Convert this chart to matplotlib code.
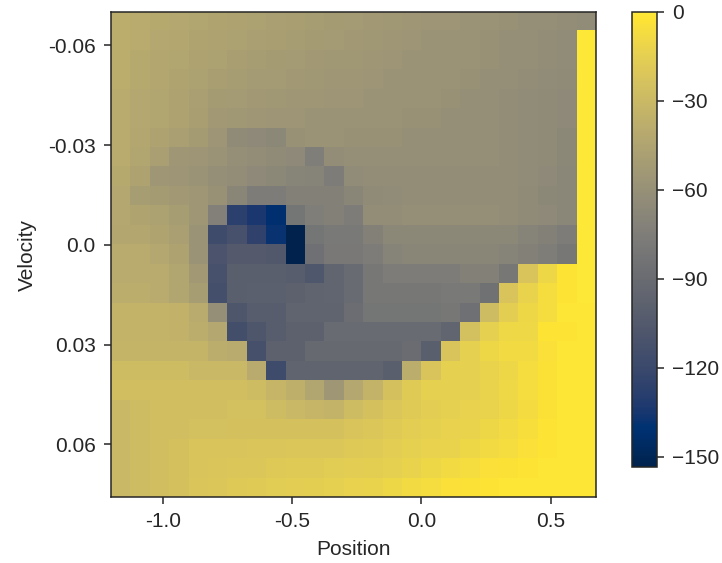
import matplotlib
matplotlib.use('Agg')

import matplotlib.pyplot as plt
import numpy as np

# value grid: rows = velocity bins (-0.07 .. 0.07), cols = position bins (-1.2 .. 0.6)
values = [
    [-38, -40, -41, -42, -44, -45, -46, -47, -48, -49, -50, -51, -52, -53, -54, -55, -56, -56, -57, -58, -59, -60, -61, -62, -63],
    [-38, -40, -42, -43, -45, -46, -47, -48, -49, -50, -51, -52, -53, -54, -55, -56, -57, -57, -58, -59, -60, -61, -62, -63, 0],
    [-38, -41, -43, -44, -46, -47, -49, -50, -51, -52, -53, -54, -54, -55, -56, -57, -57, -58, -58, -59, -60, -61, -62, -63, 0],
    [-38, -41, -43, -45, -47, -49, -50, -52, -52, -53, -54, -55, -55, -56, -57, -57, -58, -58, -59, -60, -61, -62, -63, -64, 0],
    [-39, -42, -44, -46, -48, -51, -52, -53, -54, -55, -55, -56, -56, -57, -57, -58, -58, -59, -60, -61, -62, -63, -64, -65, 0],
    [-39, -42, -44, -46, -49, -53, -54, -55, -56, -56, -57, -57, -57, -58, -58, -59, -59, -60, -60, -61, -62, -63, -64, -65, 0],
    [-40, -43, -46, -48, -51, -56, -64, -65, -66, -59, -58, -58, -59, -59, -59, -60, -60, -60, -60, -61, -62, -63, -64, -66, 0],
    [-40, -44, -48, -55, -56, -58, -61, -62, -64, -65, -74, -62, -61, -60, -60, -60, -60, -61, -61, -61, -62, -63, -64, -66, 0],
    [-41, -46, -55, -56, -58, -60, -62, -65, -66, -69, -70, -76, -63, -62, -62, -62, -62, -62, -62, -62, -62, -63, -65, -67, 0],
    [-42, -50, -51, -53, -55, -59, -68, -76, -76, -72, -72, -72, -68, -64, -63, -62, -62, -62, -62, -62, -62, -64, -66, -67, 0],
    [-42, -45, -47, -50, -55, -73, -127, -134, -142, -82, -74, -72, -76, -62, -62, -61, -61, -61, -61, -61, -62, -64, -65, -67, 0],
    [-43, -43, -45, -48, -57, -118, -112, -125, -138, -153.5, -82, -78, -78, -72, -66, -66, -66, -66, -66, -66, -66, -70, -72, -76, 0],
    [-40, -40, -42, -46, -57, -110, -104, -104, -106, -153, -86, -79, -79, -76, -70, -68, -68, -68, -68, -68, -70, -72, -75, -80, 0],
    [-40, -40, -40, -44, -53, -112, -100, -100, -100, -102, -107, -95, -90, -80, -76, -76, -76, -76, -72, -72, -80, -22, -10, -2, 0],
    [-38, -38, -40, -44, -50, -114, -100, -99, -99, -98, -96, -95, -90, -80, -80, -80, -80, -78, -78, -85, -22, -12, -6, -2, 0],
    [-34, -34, -34, -35, -40, -60, -108, -102, -102, -96, -96, -96, -88, -82, -82, -82, -82, -80, -86, -28, -15, -10, -6, -1, -1],
    [-34, -34, -34, -35, -38, -42, -115, -108, -102, -98, -98, -90, -90, -90, -90, -90, -90, -95, -25, -14, -9, -9, -2, -2, -1],
    [-33, -33, -33, -33, -33, -38, -40, -113, -98, -98, -92, -92, -92, -92, -92, -89, -100, -22, -14, -10, -8, -8, -4, -1, -1],
    [-28, -28, -28, -28, -30, -30, -30, -40, -117, -96, -96, -96, -96, -96, -100, -38, -22, -14, -14, -12, -10, -6, -3, -1, -1],
    [-26, -26, -26, -26, -26, -26, -26, -28, -32, -36, -44, -55, -42, -34, -24, -18, -14, -14, -14, -12, -9, -6, -3, -1, -1],
    [-30, -27, -26, -26, -26, -26, -25, -25, -28, -30, -32, -34, -28, -24, -20, -18, -16, -14, -13, -12, -10, -7, -3, -1, -1],
    [-30, -27, -26, -26, -25, -25, -24, -24, -24, -24, -24, -24, -22, -20, -18, -16, -14, -13, -12, -10, -8, -5, -2, -1, -1],
    [-30, -28, -26, -24, -22, -22, -22, -21, -21, -20, -20, -20, -19, -18, -16, -14, -13, -12, -10, -8, -6, -4, -2, -1, -1],
    [-30, -28, -26, -24, -22, -21, -20, -20, -19, -18, -18, -17, -16, -15, -14, -12, -10, -8, -6, -4, -3, -2, -1, -1, -1],
    [-30, -28, -26, -24, -21, -20, -19, -18, -17, -16, -15, -14, -13, -12, -10, -8, -6, -4, -3, -2, -1, -1, -1, -1, -1],
]

pos_min, pos_max = -1.2, 0.6
vel_min, vel_max = -0.07, 0.07
xticks = [-1.0, -0.5, 0.0, 0.5]
xticklabels = ['-1.0', '-0.5', '0.0', '0.5']
yticks = [-0.06, -0.03, 0.0, 0.03, 0.06]
yticklabels = ['-0.06', '-0.03', '0.0', '0.03', '0.06']
cbticks = [0, -30, -60, -90, -120, -150]

plt.rcParams['font.family'] = ['Liberation Sans', 'DejaVu Sans']
dark = '#262626'
plt.rcParams['text.color'] = dark
plt.rcParams['axes.labelcolor'] = dark
plt.rcParams['xtick.color'] = dark
plt.rcParams['ytick.color'] = dark

V = np.array(values, dtype=float)
n_vel, n_pos = V.shape
dx = (pos_max - pos_min) / (n_pos - 1)
dv = (vel_max - vel_min) / (n_vel - 1)

fig = plt.figure(figsize=(7.22, 5.63), dpi=100)
ax = fig.add_axes([0.1537, 0.1172, 0.6717, 0.8615])
cax = fig.add_axes([0.8753, 0.1705, 0.0346, 0.8082])

im = ax.imshow(V, cmap='cividis', aspect='auto', interpolation='nearest',
               extent=[pos_min, pos_max + dx, vel_max + dv, vel_min])

ax.set_xticks(xticks)
ax.set_xticklabels(xticklabels)
ax.set_yticks(yticks)
ax.set_yticklabels(yticklabels)
ax.tick_params(labelsize=15, length=5, width=1.1, pad=6)
ax.set_xlabel('Position', fontsize=15, labelpad=6)
ax.set_ylabel('Velocity', fontsize=15, labelpad=8)
for s in ax.spines.values():
    s.set_color(dark)
    s.set_linewidth(1.1)

cb = fig.colorbar(im, cax=cax)
cb.set_ticks(cbticks)
cb.ax.tick_params(labelsize=15, length=5, width=1.1, pad=6)
cb.outline.set_edgecolor(dark)
cb.outline.set_linewidth(1.1)

plt.savefig('out.png', dpi=100)
